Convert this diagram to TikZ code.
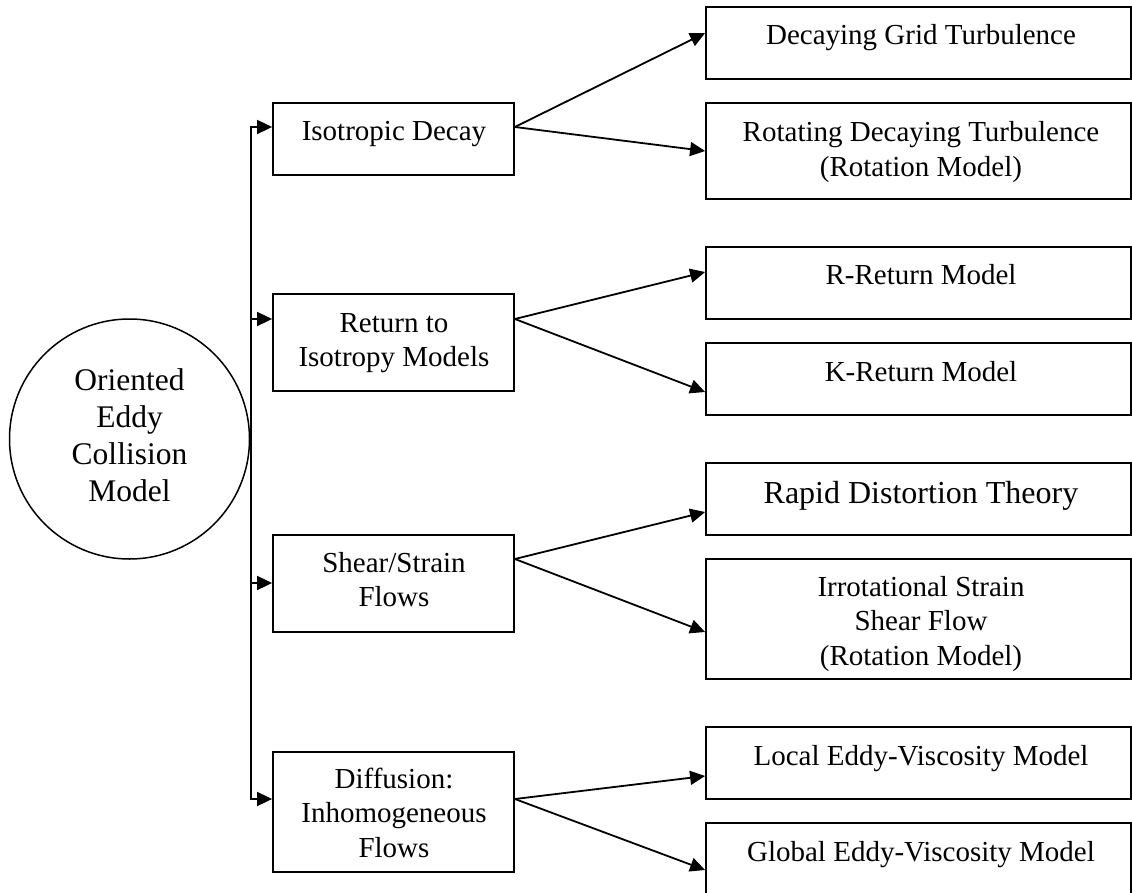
\documentclass[tikz,border=0pt]{standalone}
\usepackage{fontspec}
\setmainfont{Liberation Serif}
\usetikzlibrary{arrows.meta}
\begin{document}
\begin{tikzpicture}[x=1pt,y=-1pt,
  box/.style={draw, line width=1.8pt, rectangle, inner sep=0},
  midbox/.style={box, minimum width=241pt},
  rbox/.style={box, minimum width=425pt},
  txt/.style={inner sep=0, align=center, font=\fontsize{29pt}{34.5pt}\selectfont},
  ln/.style={line width=1.8pt},
  arr/.style={line width=1.8pt, -{Triangle[length=15pt,width=14pt]}}]
\useasboundingbox (0,0) rectangle (1132,893);
\clip (0,0) rectangle (1132,893);

% root circle
\node[draw, circle, line width=1.5pt, minimum size=240pt, inner sep=0, align=center,
      font=\fontsize{31.5pt}{37pt}\selectfont] (oec) at (129.5,439)
      {\strut Oriented\\\strut Eddy\\\strut Collision\\\strut Model};

% middle boxes
\node[midbox, minimum height=72pt]  (iso) at (393.5,139) {};
\node[midbox, minimum height=97pt]  (ret) at (393.5,342.5) {};
\node[midbox, minimum height=97pt]  (she) at (393.5,583.5) {};
\node[midbox, minimum height=120pt] (dif) at (393.5,812) {};

\node[txt] (isoT) at (394,134.1) {\strut Isotropic Decay};
\node[txt] (retT) at (394,342.35) {\strut Return to\\\strut Isotropy Models};
\node[txt] (sheT) at (394,582.35) {\strut Shear/Strain\\\strut Flows};
\node[txt] (difT) at (394,815.6) {\strut Diffusion:\\\strut Inhomogeneous\\\strut Flows};

% right boxes
\node[rbox, minimum height=72pt]  (dgt) at (918.5,43) {};
\node[rbox, minimum height=96pt]  (rdt) at (918.5,151) {};
\node[rbox, minimum height=72pt]  (rr)  at (918.5,283) {};
\node[rbox, minimum height=72pt]  (kr)  at (918.5,379) {};
\node[rbox, minimum height=72pt]  (rap) at (918.5,499) {};
\node[rbox, minimum height=120pt] (irr) at (918.5,619) {};
\node[rbox, minimum height=72pt]  (loc) at (918.5,763) {};
\node[rbox, minimum height=72pt]  (glo) at (918.5,859) {};

\node[txt] (dgtT) at (921,38.1) {\strut Decaying Grid Turbulence};
\node[txt] (rdtT) at (921,152.35) {\strut Rotating Decaying Turbulence\\\strut (Rotation Model)};
\node[txt] (rrT)  at (921,278.1) {\strut R-Return Model};
\node[txt] (krT)  at (921,374.1) {\strut K-Return Model};
\node[txt, font=\fontsize{32pt}{34.5pt}\selectfont] (rapT) at (921,496.1) {\strut Rapid Distortion Theory};
\node[txt] (irrT) at (921,623.6) {\strut Irrotational Strain\\\strut Shear Flow\\\strut (Rotation Model)};
\node[txt] (locT) at (921,758.1) {\strut Local Eddy-Viscosity Model};
\node[txt] (gloT) at (921,854.1) {\strut Global Eddy-Viscosity Model};

% trunk
\coordinate (t1) at (251,127);
\coordinate (t2) at (251,319);
\coordinate (t3) at (251,583);
\coordinate (t4) at (251,799);
\draw[ln, line cap=rect] (t1) -- (t4);
\draw[arr] (t1) -- (iso.west |- t1);
\draw[arr] (t2) -- (ret.west |- t2);
\draw[arr] (t3) -- (she.west |- t3);
\draw[arr] (t4) -- (dif.west |- t4);

% fan-outs
\draw[arr] (iso.east |- t1) -- ([yshift=10pt]dgt.west);
\draw[arr] (iso.east |- t1) -- (rdt.west);
\draw[arr] (ret.east |- t2) -- ([yshift=11pt]rr.west);
\draw[arr] (ret.east |- t2) -- ([yshift=-13pt]kr.west);
\draw[arr] ([yshift=24.5pt]she.east) -- ([yshift=-13pt]rap.west);
\draw[arr] ([yshift=24.5pt]she.east) -- ([yshift=-13pt]irr.west);
\draw[arr] (dif.east |- t4) -- ([yshift=-13pt]loc.west);
\draw[arr] (dif.east |- t4) -- ([yshift=-11pt]glo.west);
\end{tikzpicture}
\end{document}
